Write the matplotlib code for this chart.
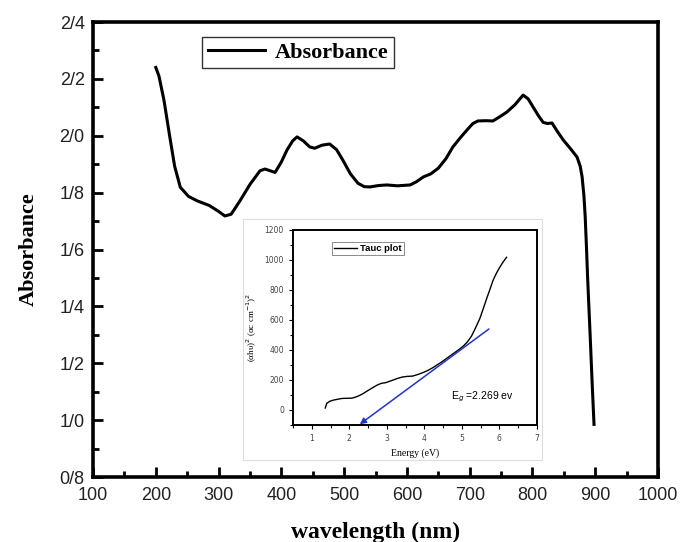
import matplotlib
matplotlib.use("Agg")
import matplotlib.pyplot as plt
from matplotlib.ticker import MultipleLocator, FixedLocator, FixedFormatter

# main spectrum
wavelength = [200, 205, 213, 222, 230, 239, 252, 266, 285, 300, 310, 320, 334, 350,
              366, 374, 382, 390, 400, 409, 418, 425, 435, 445, 453, 465, 477, 488,
              498, 510, 522, 532, 541, 555, 568, 585, 605, 615, 626, 638, 650, 662,
              673, 685, 696, 705, 713, 725, 737, 748, 759, 772, 785, 793, 801, 809,
              817, 824, 831, 840, 849, 860, 871, 876, 879, 882, 884, 886, 888, 892,
              895, 898]
absorbance = [2.24, 2.21, 2.125, 2.00, 1.893, 1.819, 1.787, 1.771, 1.755, 1.734, 1.718,
              1.724, 1.771, 1.829, 1.877, 1.883, 1.877, 1.871, 1.908, 1.950, 1.982,
              1.996, 1.982, 1.961, 1.956, 1.967, 1.971, 1.951, 1.914, 1.866, 1.833,
              1.821, 1.820, 1.825, 1.827, 1.824, 1.827, 1.838, 1.855, 1.866, 1.886,
              1.919, 1.960, 1.993, 2.021, 2.043, 2.052, 2.053, 2.052, 2.067, 2.083,
              2.109, 2.143, 2.130, 2.101, 2.072, 2.047, 2.043, 2.045, 2.014, 1.985,
              1.956, 1.925, 1.893, 1.856, 1.787, 1.713, 1.607, 1.491, 1.29, 1.132, 0.985]

ytick_vals = [0.8, 1.0, 1.2, 1.4, 1.6, 1.8, 2.0, 2.2, 2.4]
ytick_labels = ["0/8", "1/0", "1/2", "1/4", "1/6", "1/8", "2/0", "2/2", "2/4"]

# Tauc plot inset
energy = [1.36, 1.40, 1.48, 1.58, 1.70, 1.81, 1.95, 2.07, 2.16, 2.25, 2.36, 2.48, 2.62,
          2.75, 2.86, 2.97, 3.06, 3.15, 3.28, 3.42, 3.55, 3.69, 3.82, 3.95, 4.08,
          4.22, 4.35, 4.49, 4.62, 4.76, 4.90, 5.03, 5.14, 5.25, 5.36, 5.48, 5.57,
          5.66, 5.75, 5.83, 5.92, 6.01, 6.10, 6.19]
tauc = [13, 44, 58, 66, 72, 77, 78, 79, 85, 94, 108, 127, 148, 167, 178, 182, 190, 198,
        210, 220, 224, 226, 236, 248, 262, 281, 302, 325, 349, 374, 399, 424, 452,
        490, 545, 611, 676, 743, 806, 864, 912, 952, 987, 1018]
fit_x = [5.72, 2.28]
fit_y = [540, -95]

serif = "Liberation Serif"
sans = "Liberation Sans"

fig = plt.figure(figsize=(6.81, 5.42), dpi=100)
ax = fig.add_axes([0.1366, 0.1199, 0.8297, 0.8395])

ax.plot(wavelength, absorbance, color="black", lw=2.2, label="Absorbance")
ax.set_xlim(100, 1000)
ax.set_ylim(0.8, 2.4)
ax.xaxis.set_major_locator(MultipleLocator(100))
ax.xaxis.set_minor_locator(MultipleLocator(50))
ax.yaxis.set_major_locator(FixedLocator(ytick_vals))
ax.yaxis.set_major_formatter(FixedFormatter(ytick_labels))
ax.yaxis.set_minor_locator(MultipleLocator(0.1))
ax.tick_params(which="both", direction="in", width=2, colors="black",
               labelcolor="#222222", labelsize=13)
ax.tick_params(which="major", length=7)
ax.tick_params(which="minor", length=4)
ax.tick_params(axis="x", pad=7)
ax.tick_params(axis="y", pad=6)
for lab in ax.get_xticklabels() + ax.get_yticklabels():
    lab.set_fontfamily(sans)
for sp in ax.spines.values():
    sp.set_linewidth(2.6)
ax.set_xlabel("wavelength (nm)", fontfamily=serif, fontweight="bold",
              fontsize=17, labelpad=13)
ax.set_ylabel("Absorbance", fontfamily=serif, fontweight="bold",
              fontsize=16, labelpad=15)
leg = ax.legend(loc="upper left", bbox_to_anchor=(0.193, 0.968), frameon=True,
                fancybox=False, edgecolor="black", borderpad=0.25,
                handlelength=2.6, handletextpad=0.4, borderaxespad=0,
                prop={"family": serif, "weight": "bold", "size": 16})
leg.get_frame().set_linewidth(1.0)

# light panel behind the inset
panel = fig.add_axes([0.357, 0.1513, 0.439, 0.4446])
panel.set_xticks([])
panel.set_yticks([])
for sp in panel.spines.values():
    sp.set_color("#dddddd")
    sp.set_linewidth(0.8)

ins = fig.add_axes([0.4302, 0.2159, 0.3583, 0.3598])
ins.plot(energy, tauc, color="black", lw=1.0, label="Tauc plot")
ins.annotate("", xy=(fit_x[1], fit_y[1]), xytext=(fit_x[0], fit_y[0]),
             arrowprops=dict(arrowstyle="-|>", color="#2233cc", lw=1.1,
                             mutation_scale=9, shrinkA=0, shrinkB=0))
ins.set_xlim(0.5, 7)
ins.set_ylim(-100, 1200)
ins.xaxis.set_major_locator(MultipleLocator(1))
ins.xaxis.set_minor_locator(MultipleLocator(0.5))
ins.yaxis.set_major_locator(MultipleLocator(200))
ins.yaxis.set_minor_locator(MultipleLocator(100))
ins.set_yticks([0, 200, 400, 600, 800, 1000, 1200])
ins.tick_params(which="both", direction="out", labelsize=5.5, labelcolor="#444444",
                width=0.8)
ins.tick_params(which="major", length=3)
ins.tick_params(which="minor", length=2)
for sp in ins.spines.values():
    sp.set_linewidth(1.4)
ins.set_xlabel("Energy (eV)", fontfamily=serif, fontsize=7, labelpad=4)
ins.set_ylabel("(αhυ)$^2$ (αc cm$^{-1}$)$^2$", fontfamily=serif, fontsize=6.5,
               labelpad=4)
ins.text(4.7, 70, "E$_g$ =2.269 ev", fontfamily=sans, fontsize=7.5)
ileg = ins.legend(loc="upper left", bbox_to_anchor=(0.16, 0.94), frameon=True,
                  fancybox=False, edgecolor="#555555", borderpad=0.25,
                  handlelength=2.4, handletextpad=0.3, borderaxespad=0,
                  prop={"family": sans, "weight": "bold", "size": 6.8})
ileg.get_frame().set_linewidth(0.6)

fig.savefig("out.png", dpi=100)
